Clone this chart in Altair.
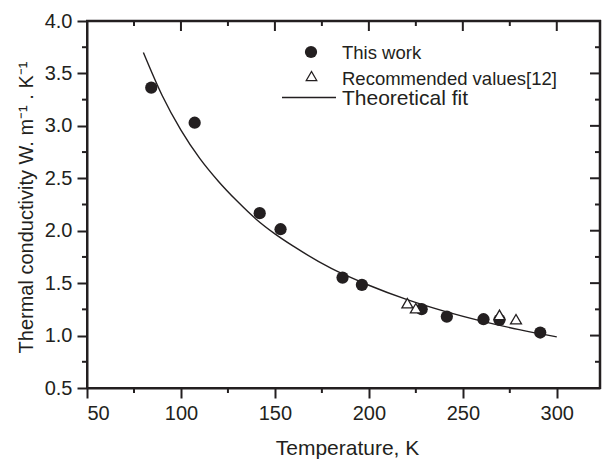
import altair as alt
import pandas as pd

# ---- data ----
this_T = [84.2, 107.3, 141.9, 153.0, 186.0, 196.3, 228.1, 241.5, 261.0, 269.5, 291.2]
this_k = [3.364, 3.03, 2.167, 2.014, 1.553, 1.484, 1.252, 1.181, 1.156, 1.15, 1.029]

rec_T = [220.5, 225.0, 269.5, 278.3]
rec_k = [1.309, 1.261, 1.197, 1.156]

fit_T = [80, 90, 100, 110, 120, 130, 140, 150, 160, 180, 200, 220, 240, 260, 280, 300]
fit_k = [3.70, 3.29, 2.96, 2.69, 2.47, 2.28, 2.11, 1.97, 1.85, 1.64, 1.48, 1.345, 1.233, 1.138, 1.057, 0.987]

x_major = [50, 100, 150, 200, 250, 300]
x_minor = [75, 125, 175, 225, 275]
y_major = [0.5, 1.0, 1.5, 2.0, 2.5, 3.0, 3.5, 4.0]
y_minor = [0.75, 1.25, 1.75, 2.25, 2.75, 3.25, 3.75]

legend_labels = ["This work", "Recommended values[12]", "Theoretical fit"]
x_title = "Temperature, K"
y_title = "Thermal conductivity W. m\u207b\u00b9 . K\u207b\u00b9"

INK = "#231f20"
FONT = "Liberation Sans"
W, H = 513, 367

df_this = pd.DataFrame({"x": this_T, "y": this_k})
df_rec = pd.DataFrame({"x": rec_T, "y": rec_k})
df_fit = pd.DataFrame({"x": fit_T, "y": fit_k})
df_xmaj = pd.DataFrame({"x": x_major})
df_xmin = pd.DataFrame({"x": x_minor})
df_ymaj = pd.DataFrame({"y": y_major})
df_ymin = pd.DataFrame({"y": y_minor})
one = pd.DataFrame({"a": [0]})

xs = alt.Scale(domain=[50, 323], nice=False, zero=False)
ys = alt.Scale(domain=[0.5, 4.0], nice=False, zero=False)

x_axis = alt.Axis(values=x_major, title=x_title, tickSize=10, labelPadding=5,
                  titleX=260, titleY=66, titleBaseline="alphabetic", titleAlign="center",
                  titleFontSize=21)
y_axis = alt.Axis(values=y_major, format=".1f", title=y_title, tickSize=10, labelPadding=5,
                  titleX=-55, titleY=186, titleBaseline="alphabetic", titleAlign="center",
                  titleAngle=270, titleFontSize=20)

fit = alt.Chart(df_fit).mark_line(color=INK, strokeWidth=1.4, interpolate="monotone").encode(
    x=alt.X("x:Q", scale=xs, axis=x_axis),
    y=alt.Y("y:Q", scale=ys, axis=y_axis),
)

circles = alt.Chart(df_this).mark_circle(size=150, color=INK, opacity=1).encode(
    x=alt.X("x:Q", scale=xs), y=alt.Y("y:Q", scale=ys)
)

tris = alt.Chart(df_rec).mark_point(shape="triangle-up", filled=True, fill="white",
                                    stroke=INK, strokeWidth=1.3, size=120, opacity=1).encode(
    x=alt.X("x:Q", scale=xs), y=alt.Y("y:Q", scale=ys)
)

def xticks(df, ycenter, length):
    return alt.Chart(df).mark_tick(color=INK, size=length, thickness=2, opacity=1).encode(
        x=alt.X("x:Q", scale=xs), y=alt.value(ycenter))

def yticks(df, xcenter, length):
    return alt.Chart(df).mark_tick(color=INK, size=length, thickness=2, opacity=1).encode(
        y=alt.Y("y:Q", scale=ys), x=alt.value(xcenter))

ticks = [
    xticks(df_xmin, H + 2.5, 5),      # bottom minor, outward
    xticks(df_xmaj, 5, 10),           # top major, inward
    xticks(df_xmin, 2.5, 5),          # top minor, inward
    yticks(df_ymin, -2.5, 5),         # left minor, outward
    yticks(df_ymaj, W - 5, 10),       # right major, inward
    yticks(df_ymin, W - 2.5, 5),      # right minor, inward
]

frame_top = alt.Chart(one).mark_rule(color=INK, strokeWidth=2.5).encode(
    x=alt.value(-1), x2=alt.value(W + 1), y=alt.value(0))
frame_right = alt.Chart(one).mark_rule(color=INK, strokeWidth=2.5).encode(
    x=alt.value(W), y=alt.value(-1), y2=alt.value(H + 1))

leg_circle = alt.Chart(one).mark_circle(size=150, color=INK, opacity=1).encode(
    x=alt.value(224), y=alt.value(31))
leg_tri = alt.Chart(one).mark_point(shape="triangle-up", filled=True, fill="white",
                                    stroke=INK, strokeWidth=1.3, size=110, opacity=1).encode(
    x=alt.value(224.5), y=alt.value(55))
leg_line = alt.Chart(one).mark_rule(color=INK, strokeWidth=1.4).encode(
    x=alt.value(195), x2=alt.value(249), y=alt.value(76.5))
leg_t1 = alt.Chart(one).mark_text(align="left", baseline="alphabetic", font=FONT,
                                  fontSize=18.5, color=INK).encode(
    x=alt.value(255), y=alt.value(38), text=alt.value(legend_labels[0]))
leg_t2 = alt.Chart(one).mark_text(align="left", baseline="alphabetic", font=FONT,
                                  fontSize=18.5, color=INK).encode(
    x=alt.value(255), y=alt.value(64), text=alt.value(legend_labels[1]))
leg_t3 = alt.Chart(one).mark_text(align="left", baseline="alphabetic", font=FONT,
                                  fontSize=21, color=INK).encode(
    x=alt.value(255), y=alt.value(84), text=alt.value(legend_labels[2]))

chart = alt.layer(
    fit, circles, tris, *ticks, frame_top, frame_right,
    leg_line, leg_circle, leg_tri, leg_t1, leg_t2, leg_t3
).properties(
    width=W, height=H,
    autosize=alt.AutoSizeParams(type="none"),
    padding={"left": 87, "top": 21, "right": 2, "bottom": 74},
    background="white",
).configure_view(
    stroke=INK, strokeWidth=2
).configure_axis(
    grid=False, domainColor=INK, domainWidth=2, tickColor=INK, tickWidth=2,
    labelFont=FONT, labelFontSize=20, labelColor=INK,
    titleFont=FONT, titleFontWeight="normal", titleColor=INK,
)

chart.save("out.html", embed_options={"renderer": "svg", "actions": False})
